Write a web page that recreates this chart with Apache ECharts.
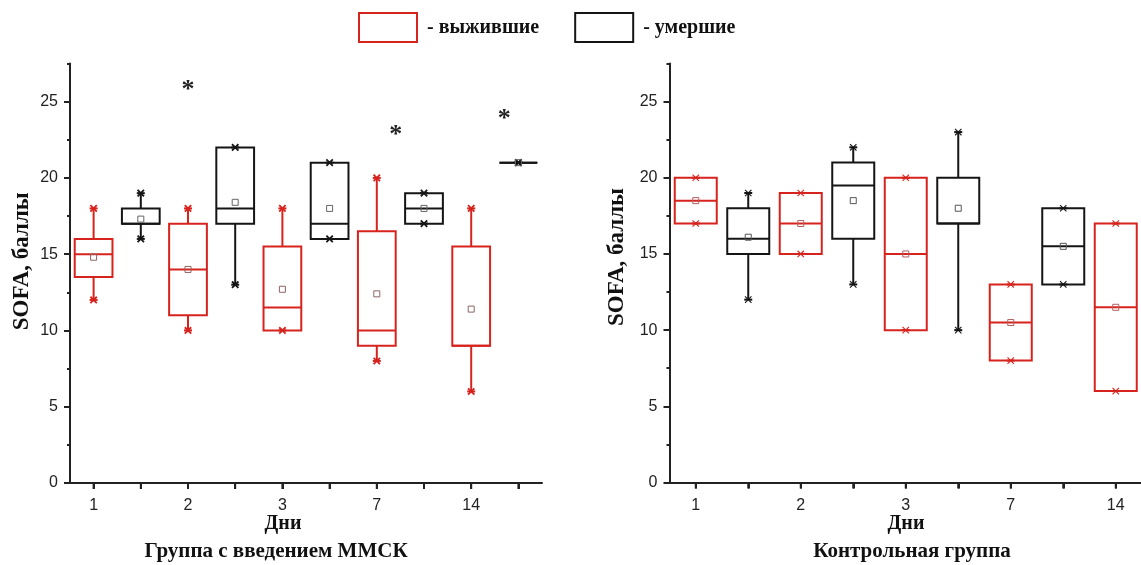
<!DOCTYPE html>
<html>
<head>
<meta charset="utf-8">
<title>SOFA</title>
<script src="https://cdn.jsdelivr.net/npm/echarts@6/dist/echarts.min.js"></script>
<style>
  html, body { margin: 0; padding: 0; background: #fff; overflow: hidden; }
  #chart { width: 1200px; height: 565px; }
</style>
</head>
<body>
<div id="chart"></div>
<script>
// Observation days
const days = ['1', '2', '3', '7', '14'];

// Per day: [min, q1, median, q3, max, mean]
const mmscSurvived = [
  [12, 13.5, 15, 16, 18, 14.8],
  [10, 11, 14, 17, 18, 14.0],
  [10, 10, 11.5, 15.5, 18, 12.7],
  [8, 9, 10, 16.5, 20, 12.4],
  [6, 9, 9, 15.5, 18, 11.4]
];
const mmscDied = [
  [16, 17, 17, 18, 19, 17.3],
  [13, 17, 18, 22, 22, 18.4],
  [16, 16, 17, 21, 21, 18.0],
  [17, 17, 18, 19, 19, 18.0],
  [21, 21, 21, 21, 21, 21]
];
const controlSurvived = [
  [17, 17, 18.5, 20, 20, 18.5],
  [15, 15, 17, 19, 19, 17.0],
  [10, 10, 15, 20, 20, 15.0],
  [8, 8, 10.5, 13, 13, 10.5],
  [6, 6, 11.5, 17, 17, 11.5]
];
const controlDied = [
  [12, 15, 16, 18, 19, 16.1],
  [13, 16, 19.5, 21, 22, 18.5],
  [10, 17, 17, 20, 23, 18.0],
  [13, 13, 15.5, 18, 18, 15.5]
];

// Significance marks: [category slot, value, shift within slot]
const mmscStars = [
  [2, 26.1, 0],
  [6, 23.1, 0.4],
  [8, 24.2, 0.7]
];

const yTicks = { min: 0, max: 27.5, major: 5, minor: 2.5 };

const RED = '#d7231d';
const BLACK = '#151515';
const SERIF = '"Liberation Serif", "Times New Roman", serif';
const SANS = '"Liberation Sans", Arial, sans-serif';

// two slots per day: survived, then died; only the first one carries the day label
const slots = days.flatMap(d => [d, d + '†']);
const slotCentres = slots.map((s, i) => i);
const labelCentres = days.map((d, i) => i * 2);

function toRows(list, offset) {
  return list.map((v, i) => [i * 2 + offset].concat(v));
}

function boxRenderer(color, meanColor, markWidth) {
  return function (params, api) {
    const i = api.value(0);
    const band = api.size([1, 0])[0];
    const half = band * 0.4;
    const at = v => api.coord([i, v]);
    const x = at(api.value(3))[0];
    const yMin = at(api.value(1))[1];
    const yQ1 = at(api.value(2))[1];
    const yMed = at(api.value(3))[1];
    const yQ3 = at(api.value(4))[1];
    const yMax = at(api.value(5))[1];
    const yMean = at(api.value(6))[1];
    const stroke = { stroke: color, lineWidth: 2, fill: 'none' };
    const kids = [];
    if (yMax < yQ3 - 0.5) {
      kids.push({ type: 'line', shape: { x1: x, y1: yQ3, x2: x, y2: yMax }, style: stroke });
    }
    if (yMin > yQ1 + 0.5) {
      kids.push({ type: 'line', shape: { x1: x, y1: yQ1, x2: x, y2: yMin }, style: stroke });
    }
    kids.push({ type: 'rect', shape: { x: x - half, y: yQ3, width: half * 2, height: yQ1 - yQ3 }, style: stroke });
    kids.push({ type: 'line', shape: { x1: x - half, y1: yMed, x2: x + half, y2: yMed }, style: stroke });
    [yMin, yMax].forEach(y => {
      const s = 3.2;
      const ms = { stroke: color, lineWidth: markWidth };
      kids.push({ type: 'line', shape: { x1: x - s, y1: y - s, x2: x + s, y2: y + s }, style: ms });
      kids.push({ type: 'line', shape: { x1: x - s, y1: y + s, x2: x + s, y2: y - s }, style: ms });
      kids.push({ type: 'line', shape: { x1: x - 4, y1: y, x2: x + 4, y2: y }, style: { stroke: color, lineWidth: 2 } });
    });
    kids.push({
      type: 'rect',
      shape: { x: x - 3, y: yMean - 3, width: 6, height: 6 },
      style: { stroke: meanColor, lineWidth: 1, fill: 'none' }
    });
    return { type: 'group', children: kids };
  };
}

// the asterisk glyph sits high in its em box, so nudge it down to centre it on the value
function starRenderer(params, api) {
  const band = api.size([1, 0])[0];
  const p = api.coord([api.value(0), api.value(1)]);
  return {
    type: 'text',
    x: p[0] + api.value(2) * band,
    y: p[1] + 5,
    style: {
      text: '*',
      font: 'bold 26px ' + SERIF,
      fill: '#222',
      align: 'center',
      verticalAlign: 'middle'
    }
  };
}

// short outward tick under a slot centre, hanging from the zero line
function tickRenderer(params, api) {
  const p = api.coord([api.value(0), yTicks.min]);
  return {
    type: 'line',
    shape: { x1: p[0], y1: p[1], x2: p[0], y2: p[1] + 6 },
    style: { stroke: '#222', lineWidth: 2 }
  };
}

// category axis that places the boxes and draws the base line
function xAxis(grid) {
  return {
    type: 'category',
    gridIndex: grid,
    position: 'bottom',
    data: slots,
    boundaryGap: true,
    axisLine: { show: true, onZero: false, lineStyle: { color: '#222', width: 2 } },
    axisTick: { show: false },
    axisLabel: { show: false },
    splitLine: { show: false }
  };
}

// companion value axis over the same slots: day labels under the first slot of each day
function xTicks(grid) {
  return {
    type: 'value',
    gridIndex: grid,
    position: 'bottom',
    min: -0.5,
    max: slots.length - 0.5,
    z: 10,
    axisLine: { show: false, onZero: false },
    axisTick: { show: true, customValues: slotCentres, length: 6, lineStyle: { color: '#222', width: 2 } },
    axisLabel: {
      show: true,
      customValues: labelCentres,
      formatter: v => days[Math.round(v) / 2],
      margin: 15, color: '#222', fontSize: 16, fontFamily: SANS
    },
    splitLine: { show: false }
  };
}

function yMain(grid, gap, shift) {
  return {
    type: 'value',
    gridIndex: grid,
    min: yTicks.min,
    max: yTicks.max,
    interval: yTicks.major,
    name: 'SOFA, баллы',
    nameLocation: 'middle',
    nameRotate: 90,
    nameGap: gap,
    nameTextStyle: { fontFamily: SERIF, fontWeight: 'bold', fontSize: 23, color: '#111', padding: [0, 0, 0, shift] },
    axisLine: { show: true, onZero: false, lineStyle: { color: '#222', width: 2 } },
    axisTick: { show: true, length: 6, lineStyle: { color: '#222', width: 2 } },
    axisLabel: { margin: 12, color: '#222', fontSize: 16, fontFamily: SANS, showMaxLabel: false },
    splitLine: { show: false }
  };
}

function yMinor(grid) {
  return {
    type: 'value',
    gridIndex: grid,
    position: 'left',
    min: yTicks.min,
    max: yTicks.max,
    interval: yTicks.minor,
    axisLine: { show: false, onZero: false },
    axisTick: { show: true, length: 3, lineStyle: { color: '#222', width: 2 } },
    axisLabel: { show: false },
    splitLine: { show: false }
  };
}

function titleText(text, x, y, size) {
  return {
    text: text,
    left: x,
    top: y,
    textAlign: 'center',
    padding: 0,
    textStyle: { fontFamily: SERIF, fontWeight: 'bold', fontSize: size, color: '#111' }
  };
}

const chart = echarts.init(document.getElementById('chart'), null, { renderer: 'canvas' });

chart.setOption({
  backgroundColor: '#fff',
  animation: false,
  title: [
    titleText('Дни', 283, 514, 20),
    titleText('Группа с введением ММСК', 276, 541, 21),
    titleText('Дни', 906, 514, 20),
    titleText('Контрольная группа', 912, 541, 21)
  ],
  legend: {
    left: 358,
    top: 12,
    padding: 0,
    itemWidth: 58,
    itemHeight: 29,
    itemGap: 35,
    selectedMode: false,
    formatter: '- {name}',
    textStyle: { fontFamily: SERIF, fontWeight: 'bold', fontSize: 20, color: '#111', padding: [0, 0, 0, 5] },
    data: [
      { name: 'выжившие', icon: 'rect', itemStyle: { color: '#fff', borderColor: RED, borderWidth: 2 } },
      { name: 'умершие', icon: 'rect', itemStyle: { color: '#fff', borderColor: BLACK, borderWidth: 2 } }
    ]
  },
  grid: [
    { left: 70, top: 63.5, width: 472, height: 419.5 },
    { left: 669.5, top: 63.5, width: 525, height: 419 }
  ],
  xAxis: [xAxis(0), xAxis(1), xTicks(0), xTicks(1)],
  yAxis: [yMain(0, 36, 24), yMinor(0), yMain(1, 41, 32), yMinor(1)],
  series: [
    {
      type: 'custom', name: 'выжившие', xAxisIndex: 0, yAxisIndex: 0,
      renderItem: boxRenderer(RED, '#8e6464', 1.8),
      encode: { x: 0, y: [1, 2, 3, 4, 5] },
      data: toRows(mmscSurvived, 0)
    },
    {
      type: 'custom', name: 'умершие', xAxisIndex: 0, yAxisIndex: 0,
      renderItem: boxRenderer(BLACK, '#666', 1.8),
      encode: { x: 0, y: [1, 2, 3, 4, 5] },
      data: toRows(mmscDied, 1)
    },
    {
      type: 'custom', name: 'p', xAxisIndex: 0, yAxisIndex: 0,
      renderItem: starRenderer,
      encode: { x: 0, y: 1 },
      data: mmscStars
    },
    {
      type: 'custom', name: 'выжившие', xAxisIndex: 1, yAxisIndex: 2,
      renderItem: boxRenderer(RED, '#b06060', 1.1),
      encode: { x: 0, y: [1, 2, 3, 4, 5] },
      data: toRows(controlSurvived, 0)
    },
    {
      type: 'custom', name: 'умершие', xAxisIndex: 1, yAxisIndex: 2,
      renderItem: boxRenderer(BLACK, '#555', 1.1),
      encode: { x: 0, y: [1, 2, 3, 4, 5] },
      data: toRows(controlDied, 1)
    },
    {
      type: 'custom', name: 'ticks', xAxisIndex: 0, yAxisIndex: 0, z: 10, silent: true,
      renderItem: tickRenderer,
      encode: { x: 0 },
      data: slotCentres.map(i => [i])
    },
    {
      type: 'custom', name: 'ticks', xAxisIndex: 1, yAxisIndex: 2, z: 10, silent: true,
      renderItem: tickRenderer,
      encode: { x: 0 },
      data: slotCentres.map(i => [i])
    }
  ]
});
</script>
</body>
</html>
